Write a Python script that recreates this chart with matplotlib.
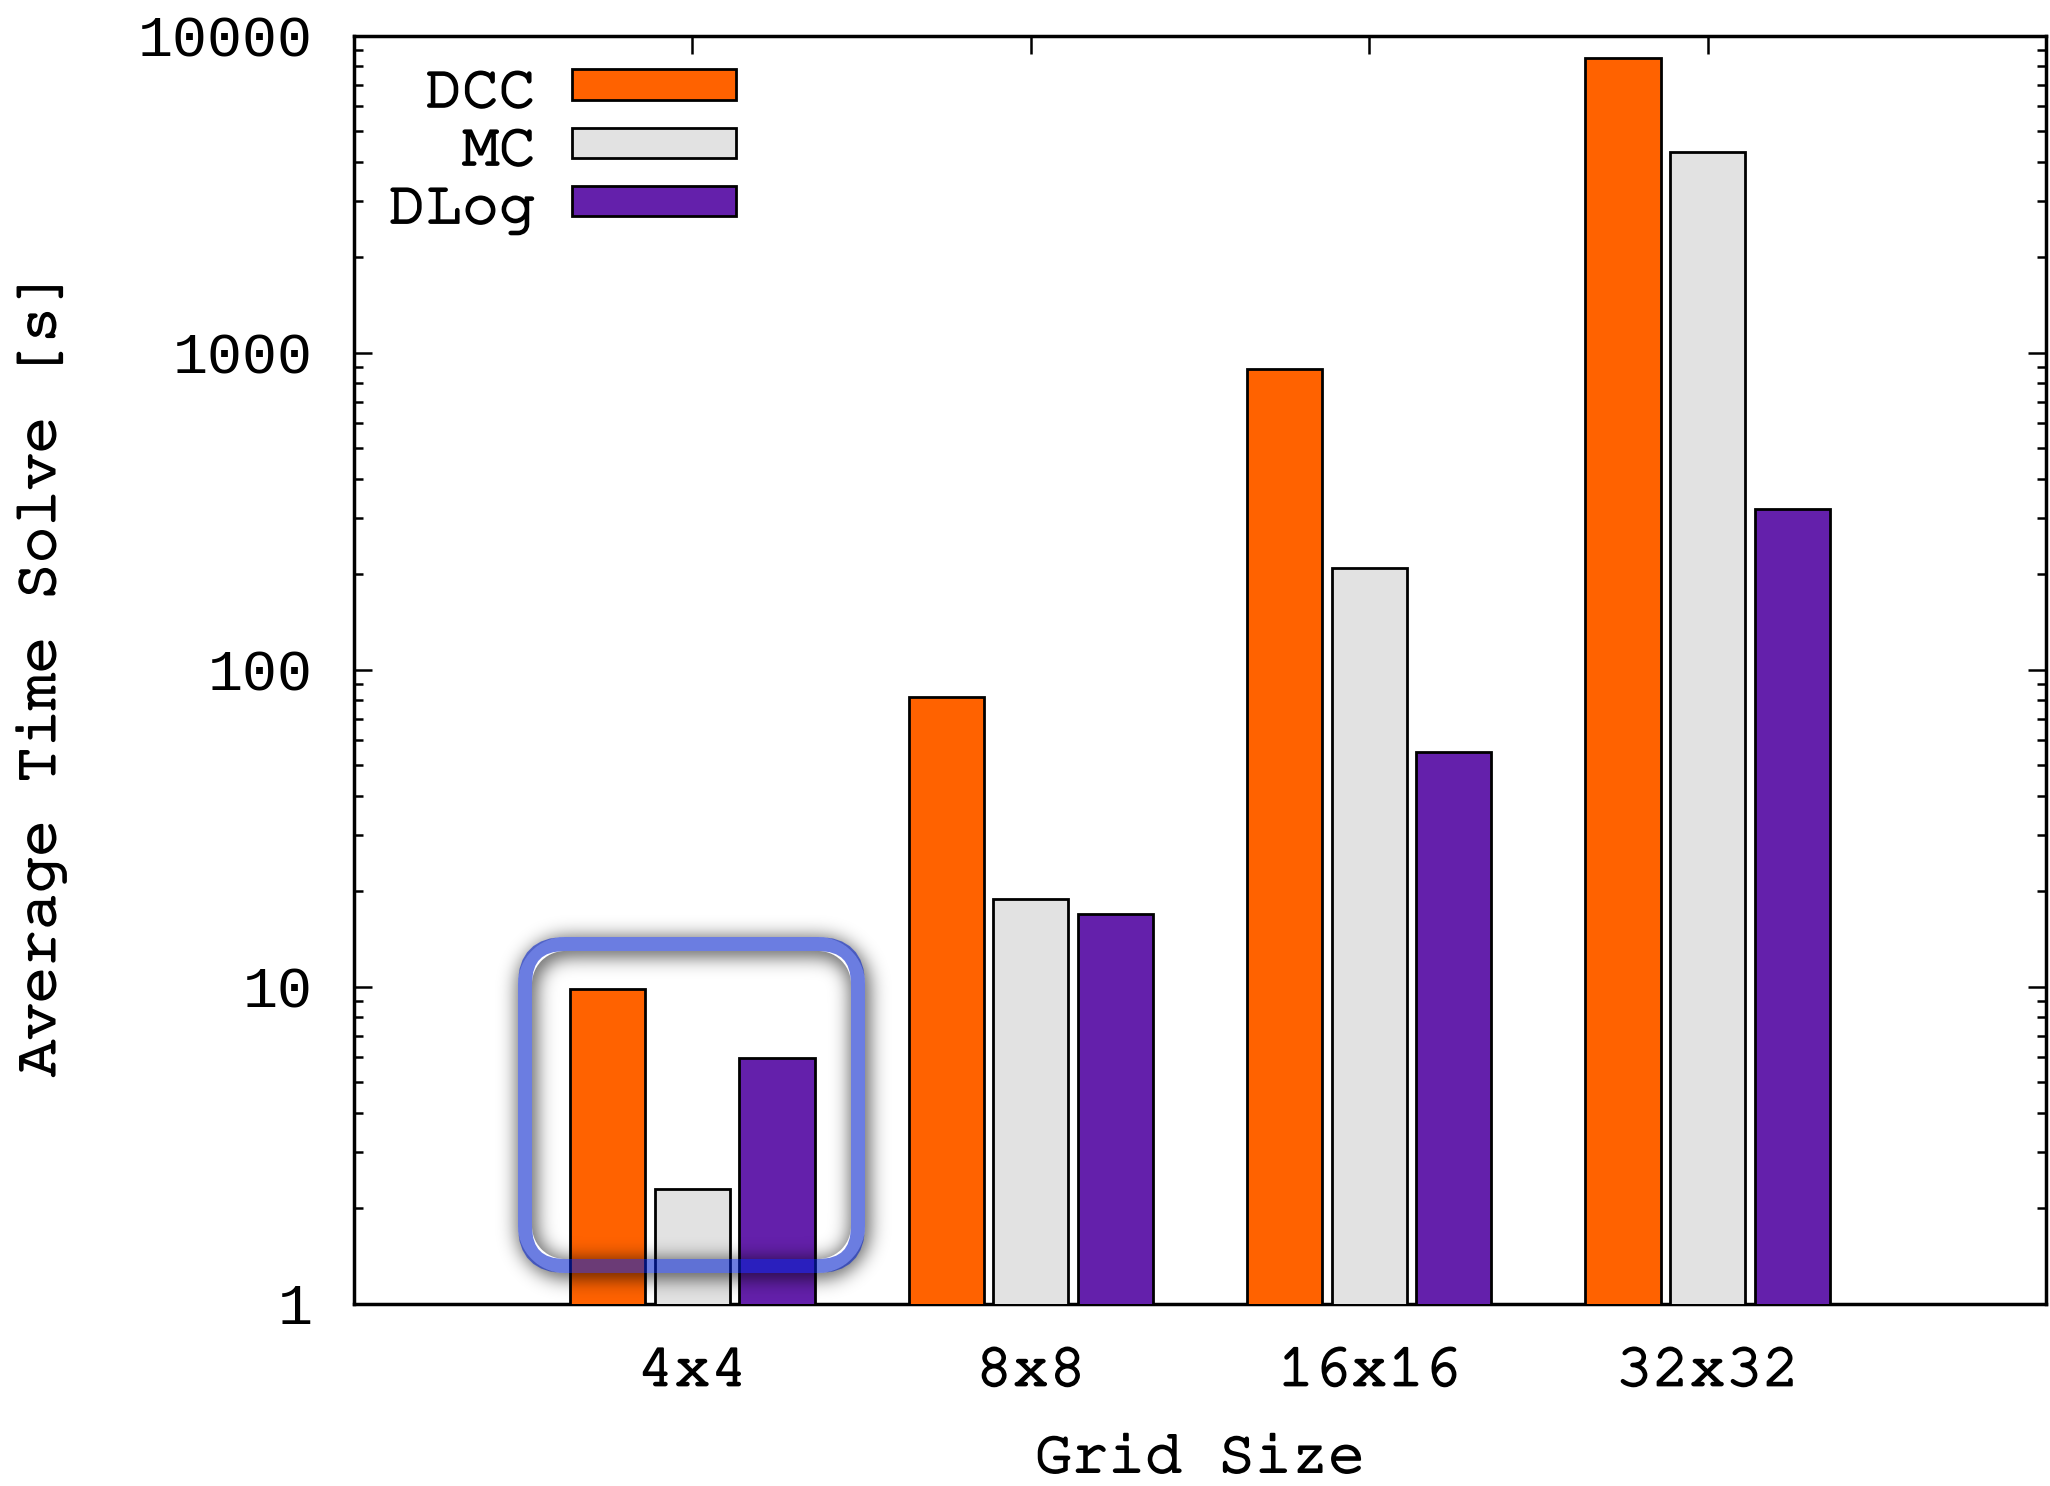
import numpy as np
import matplotlib
matplotlib.use("Agg")
import matplotlib.pyplot as plt
from matplotlib import font_manager, patheffects
from matplotlib.patches import FancyBboxPatch
from matplotlib.transforms import IdentityTransform
from matplotlib.ticker import FixedLocator, FixedFormatter, LogLocator, NullFormatter

# ---- data -------------------------------------------------------------
grid_sizes = ["4x4", "8x8", "16x16", "32x32"]
series_names = ["DCC", "MC", "DLog"]
dcc_times = [9.8, 82.0, 890.0, 8500.0]
mc_times = [2.3, 18.9, 209.0, 4300.0]
dlog_times = [5.95, 16.9, 55.0, 320.0]
y_tick_values = [1, 10, 100, 1000, 10000]
y_tick_labels = ["1", "10", "100", "1000", "10000"]

colors = ["#ff6200", "#e2e2e2", "#6420ab"]


def pick_family(candidates, default="DejaVu Sans Mono"):
    names = {f.name for f in font_manager.fontManager.ttflist}
    for c in candidates:
        if c in names:
            return c
    return default


TYPEWRITER = pick_family(["Nimbus Mono PS", "Courier New", "FreeMono",
                          "Courier 10 Pitch", "Liberation Mono"])
SANS_MONO = pick_family(["Liberation Mono", "DejaVu Sans Mono"])
TW_SIZE = 44
# slightly heavier strokes for the typewriter face
thicken = [patheffects.withStroke(linewidth=1.5, foreground="black")]

W, H, DPI = 2050, 1486, 100
fig = plt.figure(figsize=(W / DPI, H / DPI), dpi=DPI)
ax = fig.add_axes([354 / W, 1 - 1303.5 / H, (2046 - 354) / W, (1303.5 - 35.5) / H])

# ---- bars -------------------------------------------------------------
x = np.arange(len(grid_sizes))
offset = 0.25
width = 0.222
for i, (vals, name) in enumerate(zip([dcc_times, mc_times, dlog_times], series_names)):
    ax.bar(x + (i - 1) * offset, vals, width=width, bottom=0.0,
           color=colors[i], edgecolor="black", linewidth=2.0, label=name, zorder=3)

ax.set_yscale("log")
ax.set_ylim(1, 10000)
ax.set_xlim(-1, 4)

# ---- axes styling -----------------------------------------------------
for s in ax.spines.values():
    s.set_linewidth(2.5)

ax.yaxis.set_major_locator(FixedLocator(y_tick_values))
ax.yaxis.set_major_formatter(FixedFormatter(y_tick_labels))
ax.yaxis.set_minor_locator(LogLocator(base=10, subs=np.arange(2, 10)))
ax.yaxis.set_minor_formatter(NullFormatter())
ax.tick_params(axis="y", which="major", direction="in", length=13, width=1.8,
               left=True, right=True, pad=30, labelsize=42)
ax.tick_params(axis="y", which="minor", direction="in", length=6.5, width=1.8,
               left=True, right=True)
for lab in ax.get_yticklabels():
    lab.set_fontfamily(SANS_MONO)

ax.set_xticks(x)
ax.set_xticklabels(grid_sizes, fontfamily=TYPEWRITER, fontsize=TW_SIZE)
for lab in ax.get_xticklabels():
    lab.set_path_effects(thicken)
ax.tick_params(axis="x", which="both", direction="in", length=13, width=1.8,
               bottom=False, top=True, labelbottom=True, pad=33)
ax.minorticks_on()
ax.tick_params(axis="x", which="minor", bottom=False, top=False)

ax.set_ylabel("Average Time Solve [s]", fontfamily=TYPEWRITER, fontsize=TW_SIZE,
              path_effects=thicken)
ax.yaxis.label.set_verticalalignment("center")
ax.yaxis.set_label_coords(-0.185, 0.497)
ax.set_xlabel("Grid Size", fontfamily=TYPEWRITER, fontsize=TW_SIZE,
              path_effects=thicken)
ax.xaxis.label.set_verticalalignment("center")
ax.xaxis.set_label_coords(0.5, -0.123)

leg = ax.legend(loc="upper right",
                bbox_to_anchor=((736 - 354) / 1692, 1 - (69.5 - 35.5) / 1268),
                frameon=False, markerfirst=False, borderpad=0, borderaxespad=0,
                handlelength=2.68, handleheight=0.40, handletextpad=0.6,
                labelspacing=0.16, prop={"family": TYPEWRITER, "size": TW_SIZE})
for t in leg.get_texts():
    t.set_path_effects(thicken)

# ---- highlight frame around the 4x4 group (figure pixel coordinates) ---
bx0, bx1, by_top, by_bot = 525.0, 858.0, 944.0, 1266.0   # measured from top
radius = 40.0
stroke = 14.0


def rounded_box_sdf(xx, yy, cx, cy, hx, hy, r):
    qx = np.abs(xx - cx) - (hx - r)
    qy = np.abs(yy - cy) - (hy - r)
    outside = np.hypot(np.maximum(qx, 0), np.maximum(qy, 0))
    inside = np.minimum(np.maximum(qx, qy), 0)
    return outside + inside - r


def gaussian_blur(a, sigma):
    rad = int(3 * sigma)
    k = np.exp(-0.5 * (np.arange(-rad, rad + 1) / sigma) ** 2)
    k /= k.sum()
    a = np.apply_along_axis(lambda m: np.convolve(m, k, mode="same"), 0, a)
    a = np.apply_along_axis(lambda m: np.convolve(m, k, mode="same"), 1, a)
    return a


pad = 60
rx0, rx1 = int(bx0 - pad), int(bx1 + pad)
ry0, ry1 = int(by_top - pad), int(by_bot + pad)
yy, xx = np.mgrid[ry0:ry1, rx0:rx1] + 0.5
cx, cy = (bx0 + bx1) / 2, (by_top + by_bot) / 2
hx, hy = (bx1 - bx0) / 2, (by_bot - by_top) / 2
ring = np.clip(stroke / 2 + 0.5 - np.abs(rounded_box_sdf(xx, yy, cx, cy, hx, hy, radius)), 0, 1)
ring_shift = np.clip(stroke / 2 + 0.5 - np.abs(rounded_box_sdf(xx, yy, cx + 2, cy + 3, hx, hy, radius)), 0, 1)
soft = gaussian_blur(ring_shift, 10.0)
shadow = np.zeros(soft.shape + (4,))
shadow[..., 3] = np.clip(soft / soft.max(), 0, 1) * 0.48 * (1 - ring)
fig.figimage(shadow, xo=rx0, yo=H - ry1, origin="upper", zorder=5)

frame = FancyBboxPatch((bx0, H - by_bot), bx1 - bx0, by_bot - by_top,
                       boxstyle=f"round,pad=0,rounding_size={radius}",
                       transform=IdentityTransform(), fill=False,
                       edgecolor=(0.0, 0.12, 0.8, 0.58), linewidth=stroke * 72 / DPI,
                       zorder=6)
fig.add_artist(frame)

fig.savefig("out.png", dpi=DPI)
